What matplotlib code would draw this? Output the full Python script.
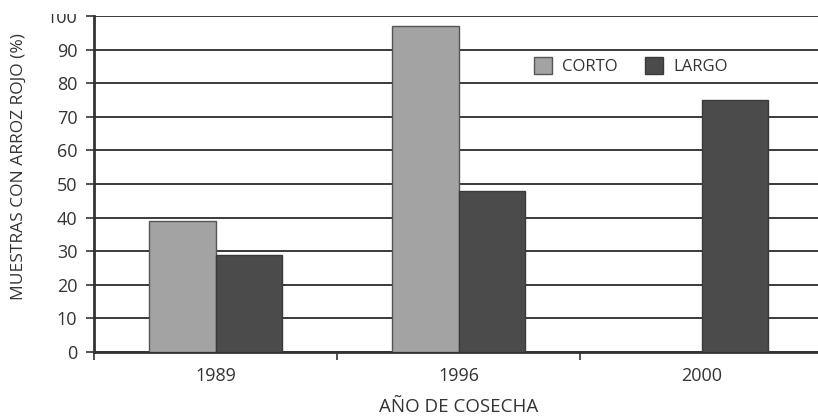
import matplotlib
matplotlib.use("Agg")
import matplotlib.pyplot as plt
import numpy as np
from matplotlib.patches import Rectangle

years = ["1989", "1996", "2000"]
corto = [39, 97, 0]
largo = [29, 48, 75]
series_names = ["CORTO", "LARGO"]
yticks = [0, 10, 20, 30, 40, 50, 60, 70, 80, 90, 100]

plt.rcParams['font.family'] = ['Open Sans', 'DejaVu Sans']
txt = '#333333'

W, H = 818, 417
fig = plt.figure(figsize=(W / 100, H / 100), dpi=100)
left, right, top, bottom = 94, 823, 16, 352
ax = fig.add_axes([left / W, 1 - bottom / H, (right - left) / W, (bottom - top) / H])

x = np.arange(len(years))
bw = 0.275
ax.bar(x[:2] - bw / 2, corto[:2], bw, color='#a3a3a3', edgecolor='#555555', linewidth=1.0,
       label=series_names[0], zorder=3)
ax.bar(x + bw / 2, largo, bw, color='#4b4b4b', edgecolor='#3a3a3a', linewidth=1.0,
       label=series_names[1], zorder=3)
ax.set_xlim(-0.5, 2.5)
ax.set_ylim(0, 100)
ax.set_yticks(yticks)
ax.yaxis.grid(True, color='#3a3a3a', linewidth=1.4, zorder=0)
ax.set_axisbelow(True)

ax.set_xticks([-0.5, 0.5, 1.5])
ax.set_xticklabels([])
ax.set_xticks(x, minor=True)
ax.set_xticklabels(years, minor=True)
ax.tick_params(axis='x', which='major', length=6, width=1.2, color='#333333', direction='out')
ax.tick_params(axis='x', which='minor', length=0, pad=11, labelsize=13, labelcolor=txt)
ax.tick_params(axis='y', length=6, width=1.2, color='#333333', pad=6, labelsize=13, labelcolor=txt)

for s in ['top', 'right']:
    ax.spines[s].set_visible(False)
ax.spines['left'].set_linewidth(2)
ax.spines['left'].set_color('#333333')
ax.spines['bottom'].set_linewidth(2)
ax.spines['bottom'].set_color('#333333')

ax.set_ylabel("MUESTRAS CON ARROZ ROJO (%)", fontsize=12.5, color=txt)
ax.yaxis.set_label_coords((27 - left) / (right - left), (bottom - 167) / (bottom - top))
ax.set_xlabel("AÑO DE COSECHA", fontsize=13.5, color=txt, labelpad=9)

leg = ax.legend(loc='upper left',
                bbox_to_anchor=((534 - left) / (right - left), (bottom - 57) / (bottom - top)),
                ncol=2, frameon=False, fontsize=12, handlelength=1.1, handleheight=1.2,
                columnspacing=1.6, handletextpad=0.6, labelcolor=txt,
                borderpad=0, borderaxespad=0)

# crop at the top as in the reference
fig.add_artist(Rectangle((0, 1 - 14 / H), 1, 14 / H, transform=fig.transFigure,
                         facecolor='white', edgecolor='none', zorder=10))

fig.savefig("out.png", dpi=100)
